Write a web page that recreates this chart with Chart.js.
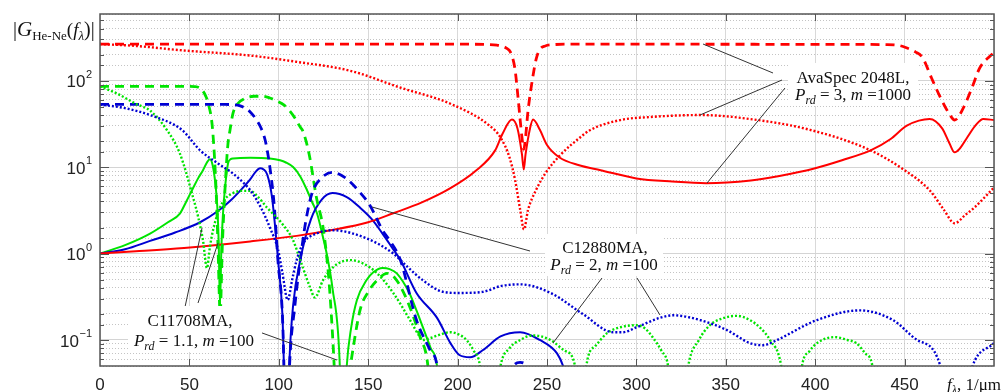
<!DOCTYPE html>
<html>
<head>
<meta charset="utf-8">
<script src="https://cdn.jsdelivr.net/npm/chart.js@4.4.0/dist/chart.umd.min.js"></script>
<style>
  html, body { margin: 0; padding: 0; background: #fff; }
  #wrap { width: 1003px; height: 392px; }
</style>
</head>
<body>
<div id="wrap"><canvas id="gain"></canvas></div>
<script>
// |G_He-Ne(f)| curves, pairs of [f (1/um), |G|]
// AvaSpec 2048L, Prd = 3, m = 1000
const avaDashed = [[0,265],[100,265],[200,264],[218,261],[222,257],[225,250],[227.5,236],[229.5,215],[232,140],[233.8,64],[235,35],[236,22],[237,16],[238,22],[239.4,45],[242,108],[244,180],[246,230],[249,252],[254,261],[260,264],[300,264],[400,263],[440,261],[447,255],[451,240],[456,215],[460,185],[465,108],[470,64],[475.4,40],[478,35],[483,49],[487.7,83],[492,140],[500,212]];
const avaSolid = [[0,1],[20,1.06],[47,1.16],[84,1.38],[110,1.6],[129,1.86],[150,2.3],[164,2.92],[180,3.9],[196,5.7],[210,9],[221,15.6],[225,24],[230.4,35.5],[233.5,28],[236,14],[237,9.4],[238,14],[240.5,28],[242.2,35.5],[246,27],[250,18],[257,12.9],[268,10.5],[280,9.2],[300,7.4],[320,6.8],[339,6.5],[364,7.0],[380,7.9],[400,9.7],[415,12],[431,15.6],[442,21],[451,30],[458,34.5],[464,36],[471,28],[475,19],[478,14.8],[481,16.5],[485,22],[490,31],[494,36],[500,35]];
const avaDotted = [[0,265],[20,252],[46,224],[84,195],[110,165],[140,130],[168,83],[196,54],[218,30],[224,22],[229,13],[232.2,7],[235,3.2],[237.1,1.9],[239.4,3.2],[244,5.5],[249,8.4],[257.3,13.7],[268.5,22],[274,26.7],[291,35],[308,38],[336,40],[363.5,36],[397,27],[431,15.6],[450,9.2],[464,5.4],[472,3.2],[478,2.24],[484,2.8],[489,3.4],[500,5.8]];

// C12880MA, Prd = 2, m = 100
const c128Dashed = [[0,53],[40,53],[70,53],[75,52.6],[78,51.5],[81,48.5],[84,43.5],[87,36.5],[90,28.5],[92.5,20],[95,10],[97.5,3.5],[99.5,0.84],[102,0.2],[104.5,0.005],[106,0.05],[109,0.25],[112,0.84],[115,2.3],[118.6,5.0],[124,7.5],[130,8.7],[138,7.3],[145,5.2],[151,3.6],[158,1.86],[162,1.42],[168,0.84],[177,0.17],[184.6,0.076],[188.5,0.05],[193,0.005],[222,0.01],[230,0.045],[235,0.055],[240,0.045],[248,0.01]];
const c128Solid = [[0,1],[14,1.12],[28,1.4],[42,1.75],[56,2.3],[66,3.1],[73,4.1],[80,5.8],[84,7.2],[87,8.8],[89.5,9.7],[91.5,9.4],[93.5,8.2],[96,4.8],[98,2],[99.6,0.84],[102,0.2],[104.5,0.005],[106,0.06],[108,0.25],[112,0.84],[118,2.5],[124,4.2],[130,5.0],[138,4.5],[145.4,3.4],[152,2.5],[158,1.7],[163,1.2],[168,0.84],[177,0.35],[188.5,0.18],[196,0.092],[201,0.067],[207,0.063],[214,0.076],[224,0.11],[235,0.123],[246,0.1],[255.6,0.07],[259,0.05],[264,0.02]];
const c128Dotted = [[0,53],[14,48],[28,40],[46,26.7],[56,15.6],[66,11],[74.4,8.4],[84,5.4],[90,3.4],[95,2.0],[99.6,1.1],[102,0.6],[105,0.29],[107.5,0.5],[110,0.84],[113.5,1.3],[121,1.7],[130,1.86],[149,1.5],[164,1.0],[172,0.7],[180.6,0.49],[192,0.36],[201,0.35],[214,0.36],[224,0.42],[235,0.44],[252,0.35],[270,0.2],[287,0.123],[292.5,0.123],[300,0.14],[313,0.18],[320.5,0.193],[335.6,0.17],[350.7,0.13],[363.5,0.092],[371,0.087],[378.6,0.1],[401,0.17],[425,0.22],[443.5,0.17],[457,0.1],[470,0.05],[476,0.004],[488,0.05],[500,0.092]];

// C11708MA, Prd = 1.1, m = 100
const c117Dashed = [[0,86],[40,86],[50,86],[53,85.5],[55.5,83],[57.5,76],[59,67],[60.5,55],[63,26.7],[65,5],[66,1.2],[67.2,0.2],[68.4,1.2],[70,6],[71.5,18],[72.7,26.7],[74.4,42],[77,54],[81,62],[86,66],[91,66],[95,63],[99,58],[103,52],[106,45],[109,37],[112,29],[113.5,26],[117,14],[121,4.5],[125,1.86],[128,0.5],[130,0.12],[132,0.02],[134.5,0.003],[137,0.02],[140,0.05],[145.4,0.22],[150,0.36],[155,0.49],[160.5,0.59],[165,0.52],[171.7,0.29],[179,0.108],[183.4,0.05],[187,0.005]];
const c117Solid = [[0,1],[14,1.25],[28,1.7],[38,2.3],[44.7,2.9],[48,3.9],[52,5.7],[55,7.5],[57.6,9.2],[60,11.5],[61.5,12.3],[63,10.5],[64.5,6.5],[65.6,3.5],[66.4,1.3],[67.1,0.25],[67.9,1.2],[68.8,2.9],[70,6],[71.6,11],[73,12.3],[74.4,12.6],[84,12.8],[95,12.6],[100.7,12],[104,11.3],[108,10],[112,7.8],[115.8,5.4],[118.5,4],[121.4,2.9],[124.7,1.55],[127.5,0.84],[130,0.4],[134,0.058],[135.5,0.004],[138,0.05],[140.5,0.14],[143.7,0.29],[149,0.49],[153,0.61],[158,0.68],[162,0.66],[166,0.59],[173,0.35],[177,0.22],[180.6,0.14],[185,0.08],[188.5,0.05],[192,0.005]];
const c117Dotted = [[0,86],[9.5,71],[20,54],[28,45],[37.5,26.7],[44.7,14.3],[52,4.5],[55,2.6],[57.6,1.42],[59.8,0.68],[61.5,1.2],[63.2,1.86],[67.1,3.4],[70,4.3],[74.4,5.0],[79,5.3],[84,5.3],[88,4.6],[93.4,3.4],[102,2.2],[108,1.42],[112,0.84],[117.4,0.41],[120.2,0.31],[124.7,0.49],[130.3,0.69],[135,0.8],[140,0.84],[147,0.77],[155,0.59],[164,0.35],[173.4,0.17],[179,0.108],[180.6,0.1],[184,0.104],[188.5,0.112],[196,0.123],[201,0.115],[205,0.1],[209,0.075],[212.5,0.05],[217.5,0.004],[224,0.05],[229,0.08],[235,0.1],[242,0.113],[252,0.1],[260,0.075],[265.7,0.05],[269,0.004],[272,0.05],[277,0.085],[283.6,0.12],[292,0.142],[300,0.148],[305,0.135],[309,0.108],[314,0.075],[317.7,0.05],[323,0.004],[329,0.05],[335,0.1],[341,0.148],[349,0.18],[356,0.19],[363.5,0.17],[369,0.14],[374.7,0.1],[381,0.05],[387,0.004],[392.6,0.05],[397,0.075],[401,0.092],[411,0.108],[418,0.1],[423,0.092],[428,0.07],[432,0.05],[437,0.004]];

// axis ticks
const xTickValues = [0, 50, 100, 150, 200, 250, 300, 350, 400, 450];
const yDecades = [0.1, 1, 10, 100];
const yExponents = ['\u22121', '0', '1', '2'];

const RED = '#ff0000', BLUE = '#0000d2', GREEN = '#00e400';
const SERIF = '"Liberation Serif", "Times New Roman", serif';
const SANS = '"Liberation Sans", Arial, sans-serif';

function isDecade(v) {
    const l = Math.log10(v);
    return Math.abs(l - Math.round(l)) < 1e-9;
}

function series(pts, color, style) {
    const ds = {
        data: pts.map(p => ({ x: p[0], y: p[1] })),
        borderColor: color,
        borderWidth: 2,
        pointRadius: 0,
        cubicInterpolationMode: 'monotone',
        clip: 0,
        fill: false
    };
    if (style === 'dash') { ds.borderDash = [9, 6]; ds.borderWidth = 2.8; }
    if (style === 'dot') { ds.borderDash = [2, 2]; ds.borderWidth = 2.4; }
    return ds;
}

// text made of runs: [text, font, dy]
function drawRich(ctx, parts, x, y, align) {
    let w = 0;
    parts.forEach(p => { ctx.font = p[1]; w += ctx.measureText(p[0]).width; });
    let cx = align === 'center' ? x - w / 2 : (align === 'right' ? x - w : x);
    ctx.textAlign = 'left';
    ctx.textBaseline = 'alphabetic';
    parts.forEach(p => {
        ctx.font = p[1];
        ctx.fillText(p[0], cx, y + (p[2] || 0));
        cx += ctx.measureText(p[0]).width;
    });
}

const it17 = 'italic 17px ' + SERIF, rm17 = '17px ' + SERIF, it12 = 'italic 12px ' + SERIF;

// label boxes with leader lines
const notes = [
    {
        box: [788, 63, 130, 43],
        lines: [[703, 44, 773, 73], [700, 115, 782, 80], [707, 183, 785, 88]],
        text: [
            { x: 853, y: 83, parts: [['AvaSpec 2048L,', rm17]] },
            { x: 853, y: 100, parts: [['P', it17], ['rd', it12, 4], [' = 3, ', rm17], ['m', it17], [' =1000', rm17]] }
        ]
    },
    {
        box: [545, 234, 118, 42],
        lines: [[372, 207, 530, 251], [553, 343, 602, 278], [660, 315, 637, 278]],
        text: [
            { x: 605, y: 253, parts: [['C12880MA,', rm17]] },
            { x: 604, y: 270, parts: [['P', it17], ['rd', it12, 4], [' = 2, ', rm17], ['m', it17], [' =100', rm17]] }
        ]
    },
    {
        box: [128, 306, 134, 46],
        lines: [[185, 307, 202, 228], [198, 303, 218, 243], [240, 325, 337, 360]],
        text: [
            { x: 190, y: 326, parts: [['C11708MA,', rm17]] },
            { x: 194, y: 346, parts: [['P', it17], ['rd', it12, 4], [' = 1.1, ', rm17], ['m', it17], [' =100', rm17]] }
        ]
    }
];

const decor = {
    id: 'decor',
    afterDatasetsDraw(chart) {
        const ctx = chart.ctx;
        ctx.save();
        notes.forEach(n => {
            ctx.strokeStyle = '#333';
            ctx.lineWidth = 1;
            ctx.beginPath();
            n.lines.forEach(l => { ctx.moveTo(l[0], l[1]); ctx.lineTo(l[2], l[3]); });
            ctx.stroke();
            ctx.fillStyle = '#fff';
            ctx.fillRect(n.box[0], n.box[1], n.box[2], n.box[3]);
            ctx.fillStyle = '#111';
            n.text.forEach(t => drawRich(ctx, t.parts, t.x, t.y, 'center'));
        });
        ctx.restore();
    },
    afterDraw(chart) {
        const { ctx, chartArea: a, scales: { x, y } } = chart;
        ctx.save();
        // inward ticks on all four sides
        ctx.strokeStyle = '#555';
        ctx.lineWidth = 1;
        ctx.beginPath();
        y.ticks.forEach(t => {
            if (t.value <= y.min || t.value >= y.max) return;
            const py = Math.round(y.getPixelForValue(t.value)) + 0.5;
            const len = isDecade(t.value) ? 9 : 4;
            ctx.moveTo(a.left, py); ctx.lineTo(a.left + len, py);
            ctx.moveTo(a.right, py); ctx.lineTo(a.right - len, py);
        });
        x.ticks.forEach(t => {
            if (t.value <= x.min || t.value >= x.max) return;
            const px = Math.round(x.getPixelForValue(t.value)) + 0.5;
            ctx.moveTo(px, a.bottom); ctx.lineTo(px, a.bottom - 7);
            ctx.moveTo(px, a.top); ctx.lineTo(px, a.top + 7);
        });
        ctx.stroke();
        ctx.lineWidth = 1.5;
        ctx.strokeRect(a.left, a.top, a.right - a.left, a.bottom - a.top);

        // decade labels 10^n
        ctx.fillStyle = '#222';
        ctx.textBaseline = 'middle';
        ctx.textAlign = 'right';
        yDecades.forEach((v, i) => {
            const py = y.getPixelForValue(v);
            ctx.font = '11px ' + SANS;
            const ew = ctx.measureText(yExponents[i]).width;
            ctx.fillText(yExponents[i], 92, py - 6);
            ctx.font = '17px ' + SANS;
            ctx.fillText('10', 92 - ew - 0.5, py + 2);
        });

        // axis titles
        ctx.fillStyle = '#111';
        drawRich(ctx, [['|', '20px ' + SERIF], ['G', 'italic 21px ' + SERIF], ['He-Ne', '13px ' + SERIF, 4], ['(', '19px ' + SERIF], ['f', 'italic 19px ' + SERIF], ['\u03bb', 'italic 13px ' + SERIF, 4], [')|', '20px ' + SERIF]], 13, 36, 'left');
        drawRich(ctx, [['f', it17], ['\u03bb', it12, 4], [', 1/\u03bcm', rm17]], 1001, 390, 'right');
        ctx.restore();
    }
};

const ctxG = document.getElementById('gain');
new Chart(ctxG, {
    type: 'line',
    data: {
        datasets: [
            series(avaDotted, RED, 'dot'),
            series(c128Dotted, BLUE, 'dot'),
            series(c117Dotted, GREEN, 'dot'),
            series(avaDashed, RED, 'dash'),
            series(c128Dashed, BLUE, 'dash'),
            series(c117Dashed, GREEN, 'dash'),
            series(avaSolid, RED),
            series(c128Solid, BLUE),
            series(c117Solid, GREEN)
        ]
    },
    options: {
        responsive: true,
        maintainAspectRatio: false,
        animation: false,
        devicePixelRatio: 1,
        layout: { padding: { top: 14, right: 9, left: 0, bottom: 0 } },
        plugins: { legend: { display: false }, tooltip: { enabled: false } },
        scales: {
            x: {
                type: 'linear',
                min: 0,
                max: 500,
                afterFit(scale) { scale.height = 26; },
                afterBuildTicks(scale) {
                    scale.ticks = xTickValues.concat([500]).map(v => ({ value: v }));
                },
                ticks: {
                    autoSkip: false,
                    maxRotation: 0,
                    padding: 9,
                    color: '#222',
                    font: { family: SANS, size: 17 },
                    callback: v => (xTickValues.includes(v) ? String(v) : '')
                },
                grid: { color: '#d9d9d9', lineWidth: 1, drawTicks: false },
                border: { display: false }
            },
            y: {
                type: 'logarithmic',
                min: 0.05,
                max: 590,
                afterFit(scale) { scale.width = 100; },
                ticks: { display: false, autoSkip: false },
                grid: {
                    drawTicks: false,
                    lineWidth: 1,
                    color: c => (isDecade(c.tick.value) ? '#d4d4d4' : '#c4c4c4')
                },
                border: {
                    display: false,
                    dash: c => (c.tick && isDecade(c.tick.value) ? [] : [1, 2])
                }
            }
        }
    },
    plugins: [decor]
});
</script>
</body>
</html>
